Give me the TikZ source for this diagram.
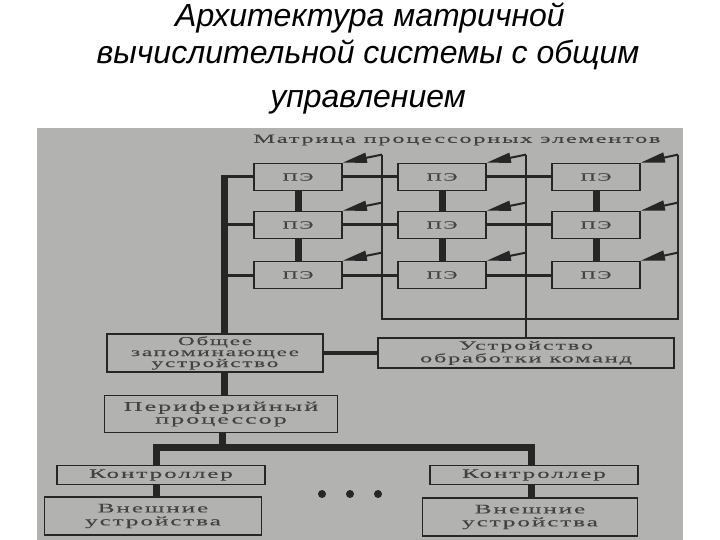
\documentclass[tikz,border=0pt]{standalone}
\usepackage{fontspec}
\usetikzlibrary{arrows.meta,calc,positioning}
\newfontfamily\scanfont[FakeStretch=1.95,LetterSpace=14,FakeBold=0.2]{Liberation Serif}
\newfontfamily\titlefont{Liberation Sans}
\definecolor{photo}{RGB}{178,178,176}
\definecolor{ink}{RGB}{38,38,38}
\definecolor{print}{RGB}{66,66,66}
\tikzset
{
    heading/.style  = {anchor=base, font=\titlefont\itshape\fontsize{32}{32}\selectfont},
    caption/.style  = {text=print, font=\scanfont\fontsize{12.5}{12.5}\selectfont},
    unitbox/.style 2 args = {draw=ink, line width=1.8pt, text=print, align=center, inner sep=0pt, minimum width=#1, minimum height=#2},
    pebox/.style    = {unitbox={88pt}{27pt}, font=\scanfont\fontsize{11}{11}\selectfont},
    bus/.style      = {draw=ink, line width=7pt},
    link/.style     = {draw=ink, line width=3pt},
    ctrl/.style     = {draw=ink, line width=2pt},
    ctrlarrow/.style= {ctrl, -{Triangle[length=24pt,width=10pt]}},
    dot/.style      = {circle, fill=ink, inner sep=0pt, minimum size=8pt}
}
\begin{document}
\begin{tikzpicture}[x=1pt,y=-1pt]
\useasboundingbox (0,0) rectangle (720,540);
\fill[photo] (37,128) rectangle (683,540);
\node [heading] at (370,27) (h1) {Архитектура матричной};
\node [heading] at (368,64) (h2) {вычислительной системы с общим};
\node [heading] at (368,108) (h3) {управлением};
\node [caption] at (457,140) (mtx) {Матрица процессорных элементов};
\foreach \c/\x in {1/298,2/442,3/596}
  \foreach \r/\y in {1/177,2/225,3/275}
    \node [pebox] at (\x,\y) (p\r\c) {ПЭ};
\node [unitbox={216pt}{38pt}, font=\scanfont\fontsize{12}{11}\selectfont] at (215,353) (mem) {Общее\\запоминающее\\устройство};
\node [unitbox={296pt}{30pt}, font=\scanfont\fontsize{12.5}{11}\selectfont] at (526,353) (cmd) {Устройство\\обработки команд};
\node [unitbox={233pt}{37pt}, font=\scanfont\fontsize{13.5}{12.7}\selectfont] at (221,414) (perif) {Периферийный\\процессор};
\node [unitbox={208pt}{19pt}, font=\scanfont\fontsize{13}{13}\selectfont] at (161,475) (ctl1) {Контроллер};
\node [unitbox={208pt}{19pt}, font=\scanfont\fontsize{13}{13}\selectfont] at (534,475) (ctl2) {Контроллер};
\node [unitbox={217pt}{38pt}, font=\scanfont\fontsize{13}{13}\selectfont] at (153,516) (dev1) {Внешние\\устройства};
\node [unitbox={215pt}{38pt}, font=\scanfont\fontsize{13}{13}\selectfont] at (530,517) (dev2) {Внешние\\устройства};
\node [dot] at (322,494) (d1) {};
\node [dot] at (350,494) (d2) {};
\node [dot] at (378,494) (d3) {};
\coordinate (bt) at (224,175);
\coordinate (hl) at (156,447);
\coordinate (hb) at (222,447);
\coordinate (hr) at (531,447);
\coordinate (v1b) at (382,319);
\coordinate (v3b) at (678,319);
\foreach \c/\vx in {1/382,2/526,3/678}
  \foreach \r in {1,2,3}
    \coordinate (s\r\c) at ($(\vx,0 |- p\r\c.north)+(0,-8)$);
\foreach \c in {1,2,3}
{
  \draw [bus] (p1\c.south) -- (p2\c.north);
  \draw [bus] (p2\c.south) -- (p3\c.north);
  \foreach \r in {1,2,3}
    \draw [ctrlarrow] (s\r\c) -- (p\r\c.north east);
}
\foreach \r in {1,2,3}
{
  \draw [link] (bt |- p\r1.west) -- (p\r1.west);
  \draw [link] (p\r1.east) -- (p\r2.west);
  \draw [link] (p\r2.east) -- (p\r3.west);
}
\draw [ctrl] (s11) -- (v1b) -- (v3b) -- (s13);
\draw [ctrl] (s12) -- (cmd.north);
\draw [bus] (bt) -- (bt |- mem.north);
\draw [link, line width=4.5pt] (mem.east) -- (cmd.west);
\draw [bus] (mem.south -| bt) -- (perif.north -| bt);
\draw [bus] (perif.south -| hb) -- (hb);
\draw [bus, line join=miter] (ctl1.north -| hl) -- (hl) -- (hr) -- (ctl2.north -| hr);
\draw [bus] (ctl1.south -| hl) -- (dev1.north -| hl);
\draw [bus] (ctl2.south -| hr) -- (dev2.north -| hr);
\end{tikzpicture}
\end{document}
